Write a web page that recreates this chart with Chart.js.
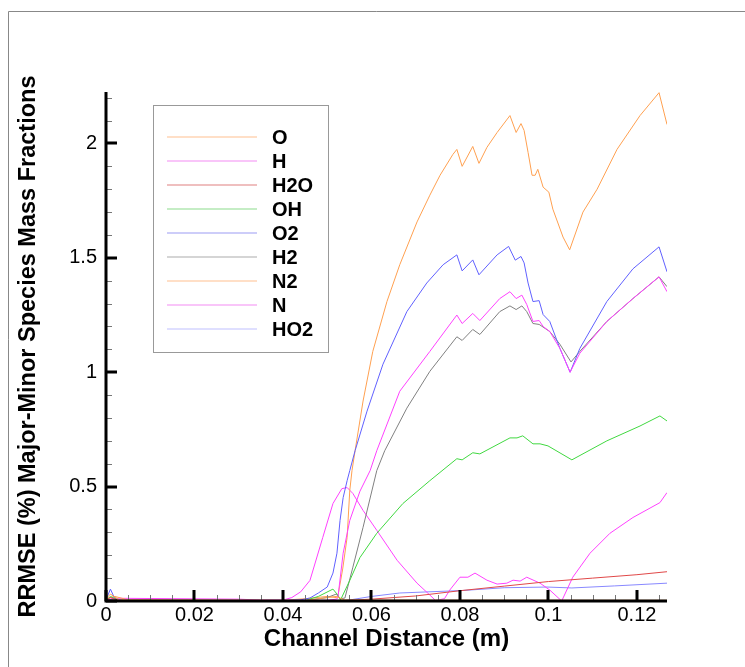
<!DOCTYPE html>
<html>
<head>
<meta charset="utf-8">
<script src="https://cdn.jsdelivr.net/npm/chart.js@4"></script>
<style>
  body { margin: 0; background: #fff; }
  #wrap { width: 745px; height: 667px; }
</style>
</head>
<body>
<div id="wrap"><canvas id="grafico" width="745" height="667"></canvas></div>
<script>
// dados: [x (m), RRMSE (%)]
const speciesO = [[0,0.01],[0.001,0.03],[0.003,0.005],[0.045,0.002],[0.05,0.015],[0.052,0.02],[0.054,0.004],[0.1268,0.003]];

const speciesH = [[0,0.003],[0.05,0.003],[0.052,0.008],[0.0524,0.013],[0.0536,0.209],[0.0551,0.352],[0.0574,0.48],[0.0597,0.57],
  [0.0612,0.657],[0.0664,0.917],[0.0732,1.091],[0.0793,1.25],[0.0805,1.213],[0.0829,1.257],[0.0845,1.226],[0.089,1.322],
  [0.0913,1.352],[0.0927,1.322],[0.094,1.337],[0.0951,1.296],[0.0965,1.222],[0.0979,1.226],[0.0988,1.2],[0.1003,1.178],
  [0.1026,1.104],[0.1049,1.0],[0.1071,1.083],[0.1132,1.222],[0.1191,1.322],[0.125,1.417],[0.1268,1.352]];

const speciesH2O = [[0,0.004],[0.001,0.015],[0.003,0.002],[0.05,0.002],[0.054,0.003],[0.06,0.008],[0.07,0.022],[0.08,0.045],
  [0.09,0.065],[0.1,0.085],[0.11,0.1],[0.12,0.115],[0.1268,0.128]];

const speciesOH = [[0,0.003],[0.001,0.02],[0.003,0.002],[0.045,0.002],[0.048,0.02],[0.0513,0.052],[0.0524,0.026],[0.053,0.004],
  [0.0551,0.09],[0.0574,0.19],[0.0612,0.296],[0.0671,0.426],[0.0732,0.526],[0.0793,0.622],[0.0805,0.617],[0.0829,0.648],
  [0.0845,0.643],[0.0913,0.713],[0.0929,0.713],[0.0942,0.722],[0.0965,0.687],[0.0981,0.687],[0.0999,0.678],[0.1053,0.617],
  [0.1132,0.7],[0.1207,0.765],[0.1252,0.809],[0.1268,0.787]];

const speciesO2 = [[0,0.005],[0.001,0.052],[0.002,0.01],[0.004,0.003],[0.04,0.002],[0.044,0.005],[0.0461,0.013],[0.048,0.035],
  [0.05,0.061],[0.0513,0.122],[0.0522,0.209],[0.0529,0.352],[0.0536,0.452],[0.0545,0.526],[0.0551,0.57],[0.0563,0.657],
  [0.059,0.83],[0.0626,1.035],[0.068,1.265],[0.0725,1.39],[0.0762,1.47],[0.0793,1.513],[0.0805,1.443],[0.0829,1.491],
  [0.0843,1.426],[0.0884,1.513],[0.091,1.55],[0.0925,1.49],[0.0938,1.506],[0.0945,1.478],[0.0954,1.39],[0.0965,1.309],
  [0.0979,1.313],[0.0988,1.252],[0.1003,1.222],[0.1026,1.104],[0.1049,1.0],[0.1071,1.104],[0.1132,1.309],[0.1191,1.452],
  [0.125,1.548],[0.1268,1.439]];

const speciesH2 = [[0,0.005],[0.002,0.002],[0.045,0.002],[0.05,0.015],[0.052,0.03],[0.053,0.01],[0.054,0.013],[0.0558,0.148],
  [0.0581,0.322],[0.0612,0.57],[0.063,0.657],[0.068,0.843],[0.0732,1.004],[0.0793,1.155],[0.0805,1.139],[0.0829,1.187],
  [0.0845,1.165],[0.089,1.265],[0.0913,1.29],[0.0927,1.274],[0.094,1.29],[0.0951,1.265],[0.0965,1.213],[0.0979,1.209],
  [0.1003,1.178],[0.1026,1.122],[0.1051,1.045],[0.1071,1.091],[0.1132,1.222],[0.1191,1.322],[0.125,1.417],[0.1268,1.374]];

const speciesN2 = [[0,0.01],[0.002,0.02],[0.005,0.005],[0.04,0.003],[0.045,0.01],[0.05,0.02],[0.052,0.015],[0.0524,0.02],
  [0.0535,0.14],[0.0545,0.278],[0.0551,0.483],[0.0556,0.57],[0.0563,0.657],[0.0581,0.874],[0.0603,1.091],[0.0635,1.309],
  [0.0664,1.47],[0.0703,1.657],[0.0732,1.774],[0.0755,1.861],[0.0784,1.952],[0.0793,1.974],[0.0805,1.9],[0.0829,1.987],
  [0.0843,1.913],[0.0861,1.983],[0.0884,2.048],[0.0913,2.122],[0.0927,2.048],[0.0938,2.087],[0.0945,2.057],[0.0954,1.961],
  [0.0963,1.861],[0.097,1.861],[0.0976,1.887],[0.0988,1.809],[0.1001,1.787],[0.101,1.713],[0.1033,1.591],[0.1048,1.535],
  [0.1078,1.7],[0.111,1.8],[0.1155,1.974],[0.1207,2.122],[0.125,2.222],[0.1268,2.083]];

const speciesN = [[0,0.005],[0.002,0.012],[0.03,0.008],[0.035,0.004],[0.04,0.004],[0.042,0.015],[0.044,0.04],[0.0461,0.09],
  [0.049,0.278],[0.0513,0.426],[0.0533,0.491],[0.0545,0.496],[0.0558,0.47],[0.0581,0.396],[0.0612,0.309],[0.0658,0.178],
  [0.0703,0.078],[0.0732,0.026],[0.0745,0.002],[0.0765,0.01],[0.0777,0.048],[0.08,0.104],[0.0818,0.104],[0.0834,0.122],
  [0.0861,0.091],[0.0884,0.074],[0.0906,0.078],[0.092,0.091],[0.0936,0.087],[0.0951,0.104],[0.0981,0.078],[0.1003,0.048],
  [0.103,0.0],[0.1055,0.104],[0.1094,0.209],[0.1139,0.296],[0.1191,0.365],[0.1252,0.43],[0.1268,0.474]];

const speciesHO2 = [[0,0.003],[0.045,0.002],[0.0536,0.0],[0.06,0.02],[0.0664,0.035],[0.0807,0.046],[0.09,0.058],
  [0.0997,0.061],[0.1053,0.057],[0.115,0.066],[0.1268,0.078]];

const nomes = ['O', 'H', 'H2O', 'OH', 'O2', 'H2', 'N2', 'N', 'HO2'];
const series = [speciesO, speciesH, speciesH2O, speciesOH, speciesO2, speciesH2, speciesN2, speciesN, speciesHO2];
const cores = ['#ffa050', '#ff40ff', '#e04848', '#40d840', '#6060ff', '#808080', '#ffa050', '#ff40ff', '#8888ff'];
// cores mais claras usadas na legenda
const coresLegenda = ['#ffc090', '#f48cf4', '#e08080', '#8cdc8c', '#9c9cf4', '#acacac', '#ffc090', '#f48cf4', '#c0c0ff'];

const xMajor = [0, 0.02, 0.04, 0.06, 0.08, 0.1, 0.12];
const yMajor = [0, 0.5, 1, 1.5, 2];

const fonte = 'Liberation Sans, Arial, sans-serif';

// ticks para dentro, eixos grossos, legenda e moldura desenhados a mão
const estilo = {
  id: 'estilo',
  beforeDraw(chart) {
    const c = chart.ctx;
    c.save();
    c.strokeStyle = '#888';
    c.lineWidth = 1;
    c.beginPath();
    c.moveTo(8.5, 667);
    c.lineTo(8.5, 11.5);
    c.lineTo(745, 11.5);
    c.stroke();
    c.restore();
  },
  afterDraw(chart) {
    const c = chart.ctx;
    const a = chart.chartArea;
    const sx = chart.scales.x, sy = chart.scales.y;
    c.save();
    // minor ticks
    c.strokeStyle = '#777';
    c.lineWidth = 1;
    c.beginPath();
    for (let i = 0; i * 0.005 <= sx.max + 1e-9; i++) {
      if (i % 4 === 0) continue;
      const px = Math.round(sx.getPixelForValue(i * 0.005)) + 0.5;
      c.moveTo(px, a.bottom); c.lineTo(px, a.bottom - 6);
    }
    for (let i = 0; i * 0.1 <= sy.max + 1e-9; i++) {
      if (i % 5 === 0) continue;
      const py = Math.round(sy.getPixelForValue(i * 0.1)) + 0.5;
      c.moveTo(a.left, py); c.lineTo(a.left + 6, py);
    }
    c.stroke();
    // major ticks
    c.strokeStyle = '#000';
    c.lineWidth = 3;
    c.beginPath();
    xMajor.forEach(v => {
      const px = Math.round(sx.getPixelForValue(v));
      c.moveTo(px, a.bottom); c.lineTo(px, a.bottom - 11);
    });
    yMajor.forEach(v => {
      const py = Math.round(sy.getPixelForValue(v));
      c.moveTo(a.left, py); c.lineTo(a.left + 11, py);
    });
    c.stroke();
    // eixos
    c.beginPath();
    c.moveTo(a.left, a.top);
    c.lineTo(a.left, a.bottom);
    c.lineTo(a.right, a.bottom);
    c.stroke();

    // legenda
    c.lineWidth = 1;
    c.strokeStyle = '#999';
    c.fillStyle = '#fff';
    c.fillRect(153, 105, 175, 247);
    c.strokeRect(153.5, 105.5, 175, 247);
    c.font = 'bold 20px ' + fonte;
    c.textBaseline = 'middle';
    nomes.forEach((n, i) => {
      const y = 137 + i * 24;
      c.lineWidth = 1.2;
      c.strokeStyle = coresLegenda[i];
      c.beginPath();
      c.moveTo(167, y); c.lineTo(257, y);
      c.stroke();
      c.fillStyle = '#000';
      c.fillText(n, 272, y + 1);
    });
    c.restore();
  }
};

const datasets = series.map((s, i) => ({
  label: nomes[i],
  data: s.map(p => ({ x: p[0], y: p[1] })),
  borderColor: cores[i],
  borderWidth: 1,
  pointRadius: 0,
  tension: 0,
  fill: false
}));

const grafico = new Chart(document.getElementById('grafico'), {
  type: 'line',
  data: { datasets: datasets },
  options: {
    responsive: false,
    animation: false,
    clip: true,
    layout: { padding: { top: 92, right: 78, left: 0, bottom: 0 } },
    plugins: { legend: { display: false }, tooltip: { enabled: false } },
    scales: {
      x: {
        type: 'linear',
        min: 0,
        max: 0.1268,
        afterFit: s => { s.height = 66; },
        grid: { display: false, drawTicks: false },
        border: { display: false },
        ticks: {
          stepSize: 0.02,
          includeBounds: false,
          padding: 2,
          color: '#000',
          font: { family: fonte, size: 20 },
          callback: v => String(Number(v.toFixed(3)))
        },
        title: {
          display: true,
          text: 'Channel Distance (m)',
          color: '#000',
          font: { family: fonte, size: 24, weight: 'bold' },
          padding: { top: 0, bottom: 13 }
        }
      },
      y: {
        min: 0,
        max: 2.225,
        afterFit: s => { s.width = 106; },
        grid: { display: false, drawTicks: false },
        border: { display: false },
        ticks: {
          stepSize: 0.5,
          includeBounds: false,
          padding: 9,
          color: '#000',
          font: { family: fonte, size: 20 },
          callback: v => String(Number(v.toFixed(2)))
        },
        title: {
          display: true,
          text: 'RRMSE (%) Major-Minor Species Mass Fractions',
          color: '#000',
          font: { family: fonte, size: 23.5, weight: 'bold' },
          padding: { top: 14, bottom: 0 }
        }
      }
    }
  },
  plugins: [estilo]
});
</script>
</body>
</html>
